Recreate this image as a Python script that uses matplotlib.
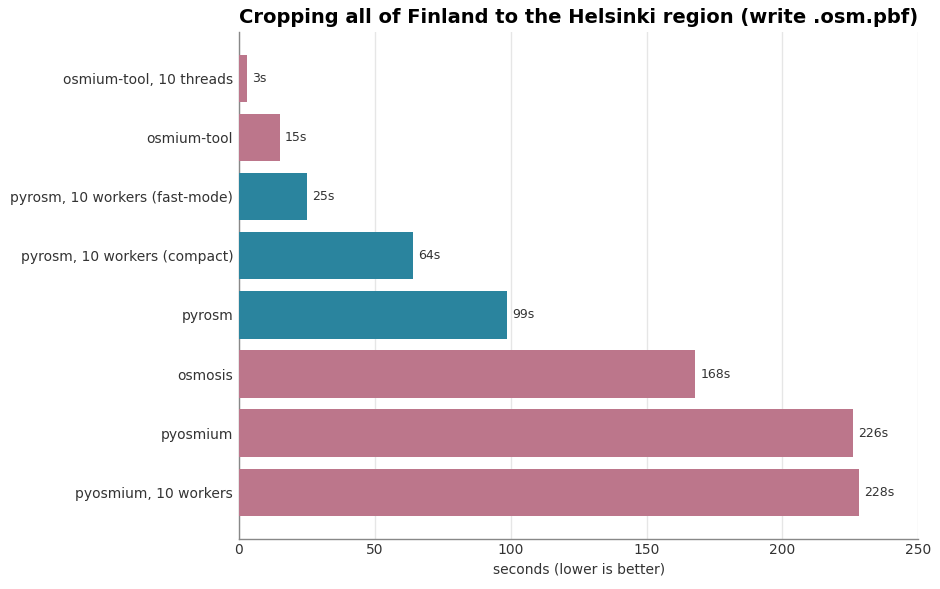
import matplotlib
matplotlib.use("Agg")
import matplotlib.pyplot as plt

labels = [
    "osmium-tool, 10 threads",
    "osmium-tool",
    "pyrosm, 10 workers (fast-mode)",
    "pyrosm, 10 workers (compact)",
    "pyrosm",
    "osmosis",
    "pyosmium",
    "pyosmium, 10 workers",
]
seconds = [3, 15, 25, 64, 98.5, 168, 226, 228]
value_labels = ["3s", "15s", "25s", "64s", "99s", "168s", "226s", "228s"]
is_pyrosm = [False, False, True, True, True, False, False, False]

PINK = "#bc768b"
TEAL = "#2a849e"
TEXT = "#333333"

fig = plt.figure(figsize=(9.4, 5.89), dpi=100)
ax = fig.add_axes([0.254, 0.085, 0.723, 0.861])

colors = [TEAL if p else PINK for p in is_pyrosm]
ypos = list(range(len(labels)))
ax.barh(ypos, seconds, height=0.8, color=colors, zorder=3)

for y, v, t in zip(ypos, seconds, value_labels):
    ax.text(v + 2, y, t, va="center", ha="left", fontsize=9, color=TEXT)

ax.set_yticks(ypos)
ax.set_yticklabels(labels)
ax.set_ylim(len(labels) - 1 + 0.79, -0.79)
ax.set_xlim(0, 250)
ax.set_xticks([0, 50, 100, 150, 200, 250])

ax.grid(axis="x", color="#e6e6e6", linewidth=1, zorder=0)
ax.tick_params(axis="both", length=0, labelsize=10, colors=TEXT)
ax.tick_params(axis="y", pad=4)
ax.tick_params(axis="x", pad=3)

for side in ["top", "right"]:
    ax.spines[side].set_visible(False)
for side in ["left", "bottom"]:
    ax.spines[side].set_color("#888888")
    ax.spines[side].set_linewidth(1)

ax.set_xlabel("seconds (lower is better)", fontsize=10, color=TEXT, labelpad=4)
ax.set_title("Cropping all of Finland to the Helsinki region (write .osm.pbf)",
             fontsize=14, fontweight="bold", color="black", pad=6)

fig.savefig("out.png", dpi=100)
